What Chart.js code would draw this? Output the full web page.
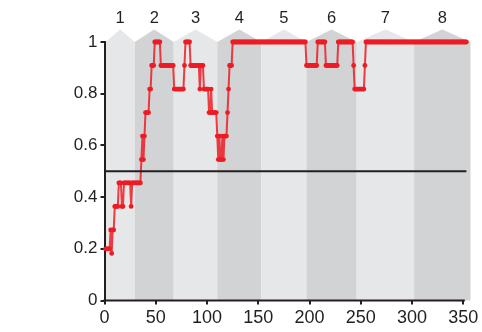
<!DOCTYPE html>
<html>
<head>
<meta charset="utf-8">
<script src="https://cdn.jsdelivr.net/npm/chart.js@4/dist/chart.umd.min.js"></script>
<style>
  html, body { margin: 0; padding: 0; background: #fff; }
  #wrap { width: 482px; height: 332px; }
</style>
</head>
<body>
<div id="wrap"><canvas id="c" width="482" height="332"></canvas></div>
<script>
// Proportion correct over the last 11 trials, one value per trial (trials 1..353)
const accuracy = [
  // trials 1-40
  0.2, 0.2, 0.2, 0.2, 0.2, 0.273, 0.182, 0.273, 0.273, 0.364,
  0.364, 0.364, 0.364, 0.455, 0.455, 0.455, 0.364, 0.364, 0.455, 0.455,
  0.455, 0.455, 0.455, 0.455, 0.455, 0.364, 0.455, 0.455, 0.455, 0.455,
  0.455, 0.455, 0.455, 0.455, 0.455, 0.545, 0.636, 0.545, 0.636, 0.727,
  // trials 41-80
  0.727, 0.727, 0.727, 0.818, 0.818, 0.909, 0.909, 0.909, 1, 1,
  1, 1, 1, 1, 0.909, 0.909, 0.909, 0.909, 0.909, 0.909,
  0.909, 0.909, 0.909, 0.909, 0.909, 0.909, 0.909, 0.818, 0.818, 0.818,
  0.818, 0.818, 0.818, 0.818, 0.818, 0.818, 0.818, 0.909, 1, 1,
  // trials 81-120
  1, 1, 1, 0.909, 0.909, 0.909, 0.909, 0.909, 0.909, 0.909,
  0.909, 0.909, 0.818, 0.909, 0.909, 0.909, 0.818, 0.818, 0.818, 0.818,
  0.818, 0.727, 0.727, 0.818, 0.727, 0.727, 0.727, 0.727, 0.727, 0.636,
  0.545, 0.636, 0.545, 0.545, 0.636, 0.545, 0.636, 0.636, 0.636, 0.727,
  // trials 121-160
  0.818, 0.909, 0.909, 0.909, 1, 1, 1, 1, 1, 1,
  1, 1, 1, 1, 1, 1, 1, 1, 1, 1,
  1, 1, 1, 1, 1, 1, 1, 1, 1, 1,
  1, 1, 1, 1, 1, 1, 1, 1, 1, 1,
  // trials 161-200
  1, 1, 1, 1, 1, 1, 1, 1, 1, 1,
  1, 1, 1, 1, 1, 1, 1, 1, 1, 1,
  1, 1, 1, 1, 1, 1, 1, 1, 1, 1,
  1, 1, 1, 1, 1, 1, 0.909, 0.909, 0.909, 0.909,
  // trials 201-240
  0.909, 0.909, 0.909, 0.909, 0.909, 0.909, 0.909, 1, 1, 1,
  1, 1, 1, 1, 1, 0.909, 0.909, 0.909, 0.909, 0.909,
  0.909, 0.909, 0.909, 0.909, 0.909, 0.909, 0.909, 1, 1, 1,
  1, 1, 1, 1, 1, 1, 1, 1, 1, 1,
  // trials 241-280
  1, 1, 0.909, 0.818, 0.818, 0.818, 0.818, 0.818, 0.818, 0.818,
  0.818, 0.818, 0.818, 0.909, 1, 1, 1, 1, 1, 1,
  1, 1, 1, 1, 1, 1, 1, 1, 1, 1,
  1, 1, 1, 1, 1, 1, 1, 1, 1, 1,
  // trials 281-320
  1, 1, 1, 1, 1, 1, 1, 1, 1, 1,
  1, 1, 1, 1, 1, 1, 1, 1, 1, 1,
  1, 1, 1, 1, 1, 1, 1, 1, 1, 1,
  1, 1, 1, 1, 1, 1, 1, 1, 1, 1,
  // trials 321-353
  1, 1, 1, 1, 1, 1, 1, 1, 1, 1,
  1, 1, 1, 1, 1, 1, 1, 1, 1, 1,
  1, 1, 1, 1, 1, 1, 1, 1, 1, 1,
  1, 1, 1
];

// Session blocks: boundaries in trials, and their numbers
const blockEdges = [1, 29.5, 67.5, 110, 153, 197, 246, 302, 357];
const blockLabels = ['1', '2', '3', '4', '5', '6', '7', '8'];

// Learning criterion
const criterionTrials = [0, 353];
const criterionLevel = [0.5, 0.5];

const xTickLabels = ['0', '50', '100', '150', '200', '250', '300', '350'];
const yTickLabels = ['0', '0.2', '0.4', '0.6', '0.8', '1'];

const INK = '#231f20';
const FONT = "'Liberation Sans', Arial, Helvetica, sans-serif";

// Shaded block columns with a peaked top and a number above each
const blockShading = {
  id: 'blockShading',
  beforeDraw(chart) {
    const { ctx, chartArea: a, scales: { x } } = chart;
    ctx.save();
    for (let i = 0; i < blockLabels.length; i++) {
      const x0 = x.getPixelForValue(blockEdges[i]);
      const x1 = x.getPixelForValue(blockEdges[i + 1]);
      const xm = (x0 + x1) / 2;
      ctx.beginPath();
      ctx.moveTo(x0, a.bottom);
      ctx.lineTo(x0, a.top);
      ctx.lineTo(xm, a.top - 12.5);
      ctx.lineTo(x1, a.top);
      ctx.lineTo(x1, a.bottom);
      ctx.closePath();
      ctx.fillStyle = i % 2 ? '#d1d3d4' : '#e6e7e8';
      ctx.fill();
      ctx.fillStyle = INK;
      ctx.font = '16.5px ' + FONT;
      ctx.textAlign = 'center';
      ctx.textBaseline = 'middle';
      ctx.fillText(blockLabels[i], xm, 18);
    }
    ctx.restore();
  },
  beforeDatasetsDraw(chart) {
    // x axis line, running from 0 to the last labelled tick
    const { ctx, chartArea: a, scales: { x } } = chart;
    ctx.save();
    ctx.strokeStyle = INK;
    ctx.lineWidth = 2;
    ctx.beginPath();
    ctx.moveTo(x.getPixelForValue(0) - 1, a.bottom);
    ctx.lineTo(x.getPixelForValue(350) + 1.5, a.bottom);
    ctx.stroke();
    ctx.restore();
  }
};

new Chart(document.getElementById('c'), {
  type: 'line',
  data: {
    datasets: [
      {
        data: criterionTrials.map((t, i) => ({ x: t, y: criterionLevel[i] })),
        borderColor: INK,
        borderWidth: 2,
        pointRadius: 0,
        clip: false
      },
      {
        data: accuracy.map((v, i) => ({ x: i + 1, y: v })),
        borderColor: 'rgba(237, 28, 36, 0.85)',
        borderWidth: 2,
        pointRadius: 2.4,
        pointBorderWidth: 0,
        pointBackgroundColor: '#ed1c24',
        tension: 0,
        clip: false
      }
    ]
  },
  options: {
    responsive: false,
    animation: false,
    devicePixelRatio: 1,
    events: [],
    layout: { padding: { top: 42, right: 11.5, left: 0, bottom: 0 } },
    plugins: { legend: { display: false }, tooltip: { enabled: false } },
    scales: {
      x: {
        type: 'linear',
        min: 0,
        max: 357,
        afterFit(s) { s.height = 31.5; },
        border: { display: false },
        grid: { drawOnChartArea: false, color: INK, lineWidth: 2, tickLength: 4 },
        ticks: {
          stepSize: 50,
          includeBounds: false,
          autoSkip: false,
          maxRotation: 0,
          padding: 3,
          color: INK,
          font: { size: 18, family: FONT },
          callback: (v, i) => xTickLabels[i]
        }
      },
      y: {
        min: 0,
        max: 1,
        afterFit(s) { s.width = 104.5; },
        border: { display: true, color: INK, width: 2 },
        grid: { drawOnChartArea: false, color: INK, lineWidth: 2, tickLength: 4 },
        ticks: {
          stepSize: 0.2,
          padding: 3,
          color: INK,
          font: { size: 17, family: FONT },
          callback: (v, i) => yTickLabels[i]
        }
      }
    }
  },
  plugins: [blockShading]
});
</script>
</body>
</html>
